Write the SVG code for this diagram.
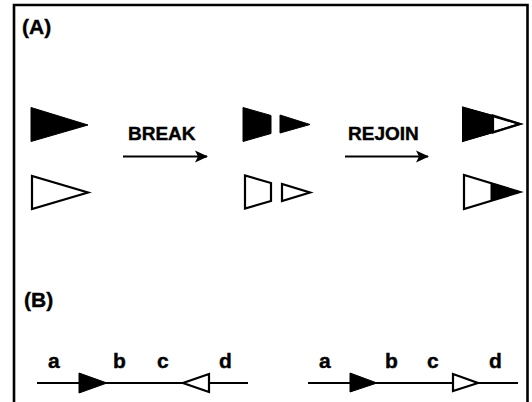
<svg xmlns="http://www.w3.org/2000/svg" width="532" height="402" viewBox="0 0 532 402">
<defs>
<style>
.lbl{font-family:"Liberation Sans",Arial,sans-serif;font-weight:bold;font-size:19px;fill:#000;stroke:#000;stroke-width:0.4}
.big{font-size:21px}
.blk{fill:#000;stroke:#000;stroke-width:1;stroke-linejoin:miter}
.wht{fill:#fff;stroke:#000;stroke-width:2.2;stroke-linejoin:miter}
.ln{stroke:#000;stroke-width:2;fill:none}
.frame{stroke:#000;stroke-width:2.6;fill:none}
</style>
<marker id="ah" markerUnits="userSpaceOnUse" markerWidth="14" markerHeight="14" refX="12" refY="7" orient="auto">
<path d="M0,1 L13,7 L0,13 L3,7 Z" fill="#000"/>
</marker>
</defs>
<rect width="532" height="402" fill="#fff"/>
<path class="frame" d="M14,402 V5 H527.5 V402"/>
<text class="lbl big" x="22" y="34">(A)</text>
<text class="lbl big" x="24" y="307">(B)</text>

<g id="orig-black"><polygon class="blk" points="31,107.5 31,141.5 88,125"/></g>
<g id="orig-white"><polygon class="wht" points="32,176 32,209 88,192.5"/></g>

<g id="break-black">
<polygon class="blk" points="243,107.5 243,141.5 271,133.5 271,115.5"/>
<polygon class="blk" points="280,115 280,133 310,124.5"/>
</g>
<g id="break-white">
<polygon class="wht" points="245,175.5 245,208.5 271,201 271,183"/>
<polygon class="wht" points="282,184 282,201 310,192.5"/>
</g>

<g id="rejoin-top">
<polygon class="blk" points="463,107.5 463,141 493,132.5 493,115.5"/>
<polygon class="wht" points="493,115.5 493,132.5 520,124"/>
<polygon fill="none" stroke="#000" stroke-width="2" points="463,107.5 463,141 520,124"/>
</g>
<g id="rejoin-bottom">
<polygon fill="#fff" stroke="none" points="464,175 464,209 491,200.5 491,183"/>
<polygon class="blk" points="491,183 491,200.5 520,192"/>
<polygon fill="none" stroke="#000" stroke-width="2.2" points="464,175 464,209 520,192"/>
</g>

<g id="connectors">
<line class="ln" x1="123" y1="156.5" x2="207" y2="156.5" marker-end="url(#ah)"/>
<line class="ln" x1="345" y1="156.5" x2="428" y2="156.5" marker-end="url(#ah)"/>
<line class="ln" x1="37" y1="383" x2="248" y2="383"/>
<line class="ln" x1="308" y1="383" x2="518" y2="383"/>
</g>
<g id="break-label"><text class="lbl" x="128" y="140">BREAK</text></g>
<g id="rejoin-label"><text class="lbl" x="348" y="140">REJOIN</text></g>

<g id="b-left">
<polygon class="blk" points="79,373 79,393 107,383"/>
<polygon class="wht" points="209,374 209,392 183,383"/>
<text class="lbl big" x="48" y="368">a</text>
<text class="lbl big" x="113" y="368">b</text>
<text class="lbl big" x="157" y="368">c</text>
<text class="lbl big" x="219" y="368">d</text>
</g>
<g id="b-right">
<polygon class="blk" points="350,373 350,392 377,383"/>
<polygon class="wht" points="453,374 453,391 478,383"/>
<text class="lbl big" x="319" y="368">a</text>
<text class="lbl big" x="385" y="368">b</text>
<text class="lbl big" x="427" y="368">c</text>
<text class="lbl big" x="489" y="368">d</text>
</g>
</svg>
